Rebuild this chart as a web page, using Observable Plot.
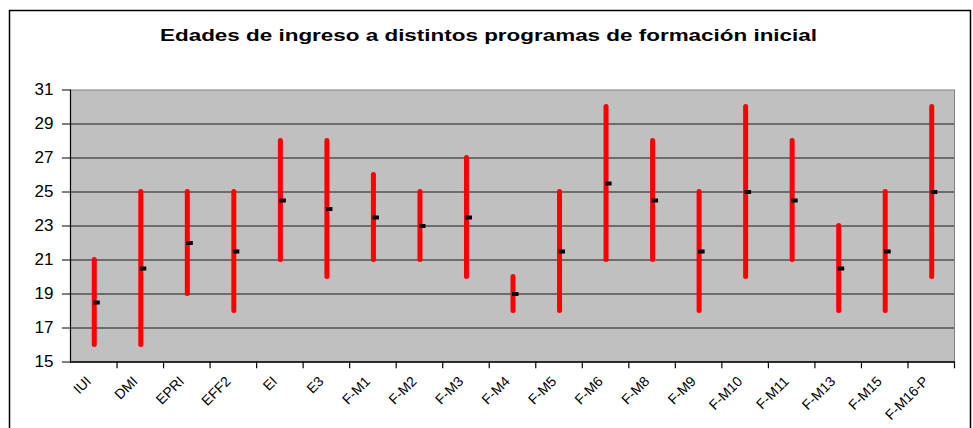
<!DOCTYPE html>
<html><head><meta charset="utf-8">
<script src="https://cdn.jsdelivr.net/npm/d3@7"></script>
<script src="https://cdn.jsdelivr.net/npm/@observablehq/plot@0.6"></script>
<style>body{margin:0;background:#fff;} svg{display:block}</style>
</head><body><div id="chart"></div>
<script>
const title = "Edades de ingreso a distintos programas de formación inicial";
const categories = ["IUI","DMI","EPRI","EFF2","EI","E3","F-M1","F-M2","F-M3","F-M4","F-M5","F-M6","F-M8","F-M9","F-M10","F-M11","F-M13","F-M15","F-M16-P"];
const lows   = [16, 16, 19, 18, 21, 20, 21, 21, 20, 18, 18, 21, 21, 18, 20, 21, 18, 18, 20];
const highs  = [21, 25, 25, 25, 28, 28, 26, 25, 27, 20, 25, 30, 28, 25, 30, 28, 23, 25, 30];
const closes = [18.5, 20.5, 22, 21.5, 24.5, 24, 23.5, 23, 23.5, 19, 21.5, 25.5, 24.5, 21.5, 25, 24.5, 20.5, 21.5, 25];
const yTicks = [15, 17, 19, 21, 23, 25, 27, 29, 31];
const gridTicks = [17, 19, 21, 23, 25, 27, 29];

const data = categories.map((c, i) => ({cat: c, low: lows[i], high: highs[i], close: closes[i]}));

const W = 973, H = 428, mL = 70, mR = 19, mT = 89.5, mB = 66.5;
const bw = (W - mL - mR) / categories.length;
const font = "'Liberation Sans', Arial, sans-serif";

const chart = Plot.plot({
  width: W, height: H,
  marginLeft: mL, marginRight: mR, marginTop: mT, marginBottom: mB,
  style: {fontFamily: font, background: "white", overflow: "visible"},
  x: {type: "band", domain: categories, padding: 0, round: false},
  y: {domain: [15, 31]},
  marks: [
    Plot.frame({fill: "#c0c0c0", stroke: "#808080"}),
    Plot.ruleY(gridTicks, {stroke: "#1a1a1a", strokeWidth: 1}),
    Plot.frame({anchor: "left", stroke: "black", strokeWidth: 1.2}),
    Plot.ruleY([15], {stroke: "black", strokeWidth: 1.5}),
    Plot.ruleX(categories, {x: d => d, y1: 15, y2: 14.6, dx: bw / 2, stroke: "black", strokeWidth: 1.2}),
    Plot.ruleX(data, {x: "cat", y1: "low", y2: "high", stroke: "#ff0000", strokeWidth: 5, strokeLinecap: "round", dx: 0.5}),
    Plot.tickY(data, {x: "cat", y: "close", stroke: "black", strokeWidth: 4, insetLeft: bw / 2, insetRight: bw / 2 - 6.5}),
    Plot.axisY({ticks: yTicks, tickSize: 8, tickPadding: 9, fontSize: 17, tickFormat: d => String(d), label: null, stroke: "black"}),
    Plot.axisX({tickSize: 0, tickPadding: 17, tickRotate: -45, fontSize: 14, label: null, dx: -5})
  ]
});

const svg = d3.select(chart);
svg.append("path")
  .attr("d", `M9.5,${H + 2} V10.5 H970.5 V${H + 2}`)
  .attr("fill", "none").attr("stroke", "black").attr("stroke-width", 1.5);
svg.append("text")
  .attr("x", 160).attr("y", 41)
  .attr("text-anchor", "start")
  .attr("textLength", 657).attr("lengthAdjust", "spacingAndGlyphs")
  .attr("font-family", font).attr("font-weight", "bold").attr("font-size", 16)
  .attr("fill", "black")
  .text(title);

document.getElementById("chart").appendChild(chart);
</script>
</body></html>
